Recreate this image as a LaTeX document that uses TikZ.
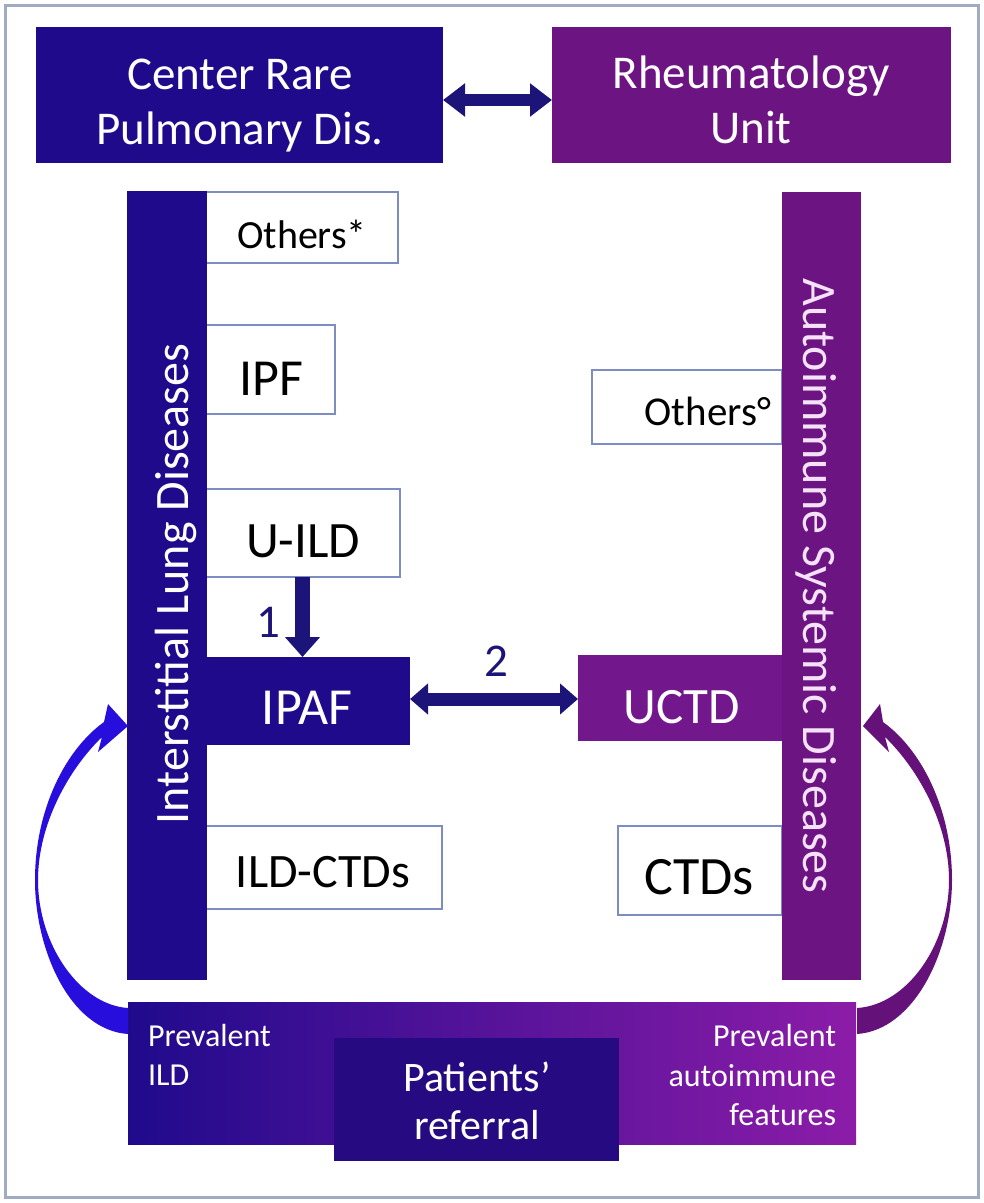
\documentclass[tikz,border=0pt]{standalone}
\usepackage{fontspec}
\setmainfont{Carlito}
\usetikzlibrary{arrows.meta}
\definecolor{dblue}{RGB}{31,10,140}
\definecolor{dpurp}{RGB}{108,20,130}
\definecolor{upurp}{RGB}{115,24,140}
\definecolor{bandL}{RGB}{32,10,140}
\definecolor{bandR}{RGB}{140,28,168}
\definecolor{refcol}{RGB}{38,10,130}
\definecolor{bordcol}{RGB}{125,140,195}
\definecolor{framecol}{RGB}{160,170,192}
\definecolor{arrblue}{RGB}{40,14,220}
\definecolor{arrpurp}{RGB}{100,18,122}
\definecolor{navy}{RGB}{28,20,120}
\definecolor{pinkw}{RGB}{245,225,248}
\begin{document}
\begin{tikzpicture}[x=1pt,y=-1pt,
  fs/.style 2 args={font=\fontsize{#1}{#2}\selectfont},
  blk/.style={inner sep=0pt, outer sep=0pt, anchor=north west},
  wbox/.style={blk, draw=bordcol, line width=1.8pt, fill=white},
  txt/.style={inner sep=0pt, outer sep=0pt},
  bigarrow/.style={navy, line width=#1},
]
\useasboundingbox (0,0) rectangle (984,1203);
\fill[white] (0,0) rectangle (984,1203);
\draw[framecol, line width=3pt] (5,5) rectangle (978,1197);

% top boxes
\node[blk, fill=dblue, minimum width=407pt, minimum height=136pt] (crp) at (36,27) {};
\node[blk, fill=dpurp, minimum width=399pt, minimum height=136pt] (rheu) at (552,27) {};
\node[txt, fs={47}{55}, text=white, align=center] (crpt) at (240,106) {Center Rare\\Pulmonary Dis.};
\node[txt, fs={47}{55}, text=white, align=center] (rheut) at (751,100) {Rheumatology\\Unit};
\draw[navy, line width=12pt, {Triangle[length=22pt,width=32pt]}-{Triangle[length=22pt,width=32pt]}]
  ([yshift=-5pt]crp.east) -- ([yshift=-5pt]rheu.west);

% left white boxes
\node[wbox, minimum width=193pt, minimum height=71pt] (oth) at (205,192) {};
\node[wbox, minimum width=130pt, minimum height=89pt] (ipf) at (205,325) {};
\node[wbox, minimum width=195pt, minimum height=88pt] (uild) at (205,489) {};
\node[wbox, minimum width=237pt, minimum height=83pt] (ildctd) at (205,826) {};
\node[blk, fill=dblue, minimum width=205pt, minimum height=88pt] (ipaf) at (205,657) {};

% right white boxes
\node[wbox, minimum width=190pt, minimum height=74pt] (otho) at (592,370) {};
\node[wbox, minimum width=164pt, minimum height=89pt] (ctds) at (618,826) {};
\node[blk, fill=upurp, minimum width=204pt, minimum height=86pt] (uctd) at (578,655) {};

% bars
\node[blk, fill=dblue, minimum width=80pt, minimum height=789pt] (lbar) at (127,191) {};
\node[blk, fill=dpurp, minimum width=79pt, minimum height=788pt] (rbar) at (782,192) {};
\node[txt, fs={48}{55}, text=white, rotate=90, anchor=base] (lbart) at (188,584) {Interstitial Lung Diseases};
\node[txt, fs={48}{55}, text=pinkw, rotate=-90, anchor=base] (rbart) at (803,586) {Autoimmune Systemic Diseases};

% box texts
\node[txt, fs={40}{48}, anchor=base] (otht) at (302,248) {Others*};
\node[txt, fs={52}{60}, anchor=base] (ipft) at (271,395) {IPF};
\node[txt, fs={51}{60}, anchor=base] (uildt) at (303,557) {U-ILD};
\node[txt, fs={52}{60}, anchor=base, text=white] (ipaft) at (307,724) {IPAF};
\node[txt, fs={48}{56}, anchor=base] (ildctdt) at (323,887) {ILD-CTDs};
\node[txt, fs={41}{48}, anchor=base] (othot) at (708,425) {Others°};
\node[txt, fs={51}{60}, anchor=base, text=white] (uctdt) at (682,723) {UCTD};
\node[txt, fs={54}{60}, anchor=base] (ctdst) at (699,894) {CTDs};

% arrows 1 and 2
\draw[navy, line width=15pt, -{Triangle[length=20pt,width=34pt]}] (uild.south) -- (uild.south |- ipaf.north);
\node[txt, fs={47}{55}, text=navy, anchor=base] (one) at (268,637) {1};
\draw[navy, line width=13pt, {Triangle[length=18pt,width=30pt]}-{Triangle[length=18pt,width=30pt]}]
  ([yshift=2pt]ipaf.east) -- ([yshift=2pt]ipaf.east -| uctd.west);
\node[txt, fs={47}{55}, text=navy, anchor=base] (two) at (496,676) {2};

% bottom band
\node[blk, left color=bandL, right color=bandR, minimum width=728pt, minimum height=142pt] (band) at (128,1002) {};
\node[blk, fill=refcol, minimum width=285pt, minimum height=123pt] (refbox) at (334,1038) {};
\node[txt, fs={32}{39.5}, text=white, align=left, anchor=west] (previld) at (148,1055) {Prevalent\\ILD};
\node[txt, fs={32}{39.5}, text=white, align=right, anchor=east] (prevai) at (836,1075) {Prevalent\\autoimmune\\features};
\node[txt, fs={42}{48}, text=white, align=center] (reft) at (477,1101) {Patients’\\referral};

% curved arrows
\fill[arrblue] (128,1034) .. controls (70,1030) and (35,950) .. (35,880)
  .. controls (35,810) and (65,750) .. (104,722) -- (108,704) -- (128,726) -- (98,752) -- (102,737)
  .. controls (68,770) and (38,825) .. (38,880)
  .. controls (38,945) and (80,1005) .. (128,1008) -- cycle;
\fill[arrpurp] (857,1034) .. controls (915,1030) and (952,950) .. (952,880)
  .. controls (952,810) and (922,750) .. (883,722) -- (880,704) -- (863,726) -- (889,752) -- (885,737)
  .. controls (919,770) and (949,825) .. (949,880)
  .. controls (949,945) and (907,1005) .. (857,1008) -- cycle;
\end{tikzpicture}
\end{document}
